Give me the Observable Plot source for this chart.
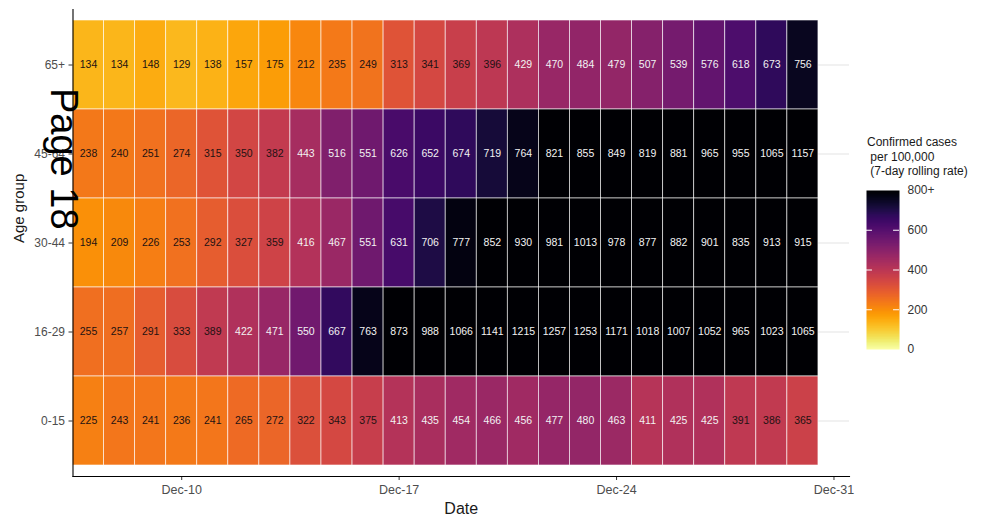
<!DOCTYPE html>
<html>
<head>
<meta charset="utf-8">
<script src="https://cdn.jsdelivr.net/npm/d3@7"></script>
<script src="https://cdn.jsdelivr.net/npm/@observablehq/plot@0.6"></script>
<style>
  body { margin: 0; background: #fff; font-family: "Liberation Sans", Arial, Helvetica, sans-serif; }
  #wrap { position: relative; width: 986px; height: 518px; overflow: hidden; background: #fff; }
  #main { position: absolute; left: 0; top: 0; }
  #legend { position: absolute; left: 850px; top: 130px; }
  #ltitle { position: absolute; left: 867px; top: 135px; font-size: 12px; line-height: 14.5px; white-space: pre; color: #1a1a1a; }
  #page { position: absolute; left: 83px; top: 88px; font-size: 38px; line-height: 38px; transform-origin: 0 0; transform: rotate(90deg); white-space: nowrap; color: #000; }
</style>
</head>
<body>
<div id="wrap">
  <div id="main"></div>
  <div id="legend"></div>
  <div id="ltitle">Confirmed cases
 per 100,000
 (7-day rolling rate)</div>
  <div id="page">Page 18</div>
</div>
<script>
// ---- data ----
const dates = [
  "2020-12-07","2020-12-08","2020-12-09","2020-12-10","2020-12-11","2020-12-12",
  "2020-12-13","2020-12-14","2020-12-15","2020-12-16","2020-12-17","2020-12-18",
  "2020-12-19","2020-12-20","2020-12-21","2020-12-22","2020-12-23","2020-12-24",
  "2020-12-25","2020-12-26","2020-12-27","2020-12-28","2020-12-29","2020-12-30"
];
const ageGroups = ["65+", "45-64", "30-44", "16-29", "0-15"];
const age65plus = [134,134,148,129,138,157,175,212,235,249,313,341,369,396,429,470,484,479,507,539,576,618,673,756];
const age45_64  = [238,240,251,274,315,350,382,443,516,551,626,652,674,719,764,821,855,849,819,881,965,955,1065,1157];
const age30_44  = [194,209,226,253,292,327,359,416,467,551,631,706,777,852,930,981,1013,978,877,882,901,835,913,915];
const age16_29  = [255,257,291,333,389,422,471,550,667,763,873,988,1066,1141,1215,1257,1253,1171,1018,1007,1052,965,1023,1065];
const age0_15   = [225,243,241,236,241,265,272,322,343,375,413,435,454,466,456,477,480,463,411,425,425,391,386,365];
const seriesValues = [age65plus, age45_64, age30_44, age16_29, age0_15];
const xTickDates = ["2020-12-10","2020-12-17","2020-12-24","2020-12-31"];
const xDomainDates = ["2020-12-06T12:00:00Z","2020-12-31T12:00:00Z"];
const legendTicks = [0, 200, 400, 600, 800];
const colorCap = 800;
const labelThreshold = 400;

// ---- build table ----
const parse = d3.utcParse("%Y-%m-%d");
const rows = [];
ageGroups.forEach((g, i) => {
  seriesValues[i].forEach((v, j) => rows.push({age: g, date: parse(dates[j]), value: v}));
});
const halfDay = 12 * 3600 * 1000;
const font = '"Liberation Sans", Arial, Helvetica, sans-serif';

const chart = Plot.plot({
  width: 860,
  height: 518,
  marginLeft: 72.5,
  marginRight: 11,
  marginTop: 9,
  marginBottom: 42,
  style: {fontFamily: font, fontSize: "12px", color: "#4d4d4d", background: "transparent", overflow: "visible"},
  x: {type: "utc", domain: xDomainDates.map(s => new Date(s)), label: null},
  y: {domain: ageGroups, paddingInner: 0, paddingOuter: 0.1, label: null},
  color: {type: "linear", scheme: "inferno", reverse: true, domain: [0, colorCap]},
  marks: [
    Plot.gridY({stroke: "#e3e3e3", strokeOpacity: 1, strokeWidth: 1}),
    Plot.barX(rows, {
      x1: d => new Date(+d.date - halfDay),
      x2: d => new Date(+d.date + halfDay),
      y: "age",
      fill: d => Math.min(d.value, colorCap),
      stroke: "#ffffff", strokeWidth: 0.8, strokeOpacity: 0.75
    }),
    Plot.text(rows.filter(d => d.value < labelThreshold), {x: "date", y: "age", text: d => String(d.value), fill: "#231212", fontSize: 10.5}),
    Plot.text(rows.filter(d => d.value >= labelThreshold), {x: "date", y: "age", text: d => String(d.value), fill: "#f2f2f2", fontSize: 10.5}),
    Plot.axisX({ticks: xTickDates.map(s => parse(s)), tickFormat: d3.utcFormat("%b-%d"), tickSize: 4, tickPadding: 5, stroke: "#333", fill: "#4d4d4d", fontSize: 12.5, label: null}),
    Plot.axisY({tickSize: 4, tickPadding: 4, stroke: "#333", fill: "#4d4d4d", fontSize: 12, label: null}),
    Plot.frame({anchor: "left", stroke: "#000", strokeWidth: 1.1}),
    Plot.frame({anchor: "bottom", stroke: "#000", strokeWidth: 1.1}),
    Plot.text(["Date"], {frameAnchor: "bottom", dy: 37, fontSize: 16, fill: "#1a1a1a"}),
    Plot.text(["Age group"], {frameAnchor: "left", dx: -54, rotate: -90, fontSize: 15, fill: "#1a1a1a"})
  ]
});
document.getElementById("main").appendChild(chart);

const legend = Plot.plot({
  width: 136,
  height: 240,
  marginTop: 60,
  marginBottom: 21,
  marginLeft: 16,
  marginRight: 87,
  style: {fontFamily: font, fontSize: "12px", color: "#333", background: "transparent", overflow: "visible"},
  x: {domain: [0, 1], axis: null},
  y: {domain: [0, colorCap], axis: null},
  color: {type: "linear", scheme: "inferno", reverse: true, domain: [0, colorCap]},
  marks: [
    Plot.raster({x1: 0, x2: 1, y1: 0, y2: colorCap, width: 1, height: 200, fill: (x, y) => y}),
    Plot.ruleY(legendTicks.slice(1, -1), {x1: 0, x2: 0.18, stroke: "#fff", strokeWidth: 1}),
    Plot.ruleY(legendTicks.slice(1, -1), {x1: 0.82, x2: 1, stroke: "#fff", strokeWidth: 1}),
    Plot.axisY({anchor: "right", ticks: legendTicks, tickFormat: d => d === colorCap ? colorCap + "+" : String(d), tickSize: 0, tickPadding: 8, fontSize: 12, fill: "#333", label: null})
  ]
});
document.getElementById("legend").appendChild(legend);
</script>
</body>
</html>
